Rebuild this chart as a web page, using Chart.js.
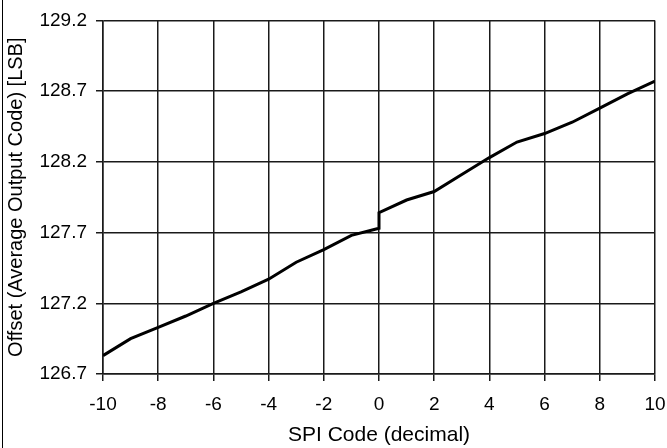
<!DOCTYPE html>
<html>
<head>
<meta charset="utf-8">
<script src="https://cdn.jsdelivr.net/npm/chart.js@4.4.1/dist/chart.umd.min.js"></script>
<style>
  html, body { margin: 0; padding: 0; background: #fff; }
  #wrap { position: relative; width: 667px; height: 448px; }
  #edge { position: absolute; left: 2px; top: 0; width: 1px; height: 448px; background: #000; }
</style>
</head>
<body>
<div id="wrap">
  <canvas id="chart" width="667" height="448"></canvas>
  <div id="edge"></div>
</div>
<script>
// SPI code on x, measured offset on y (code 0 appears twice: the step)
const spiCodes = [-10, -9, -8, -7, -6, -5, -4, -3, -2, -1, 0, 0, 1, 2, 3, 4, 5, 6, 7, 8, 9, 10];
const offsets = [126.83, 126.95, 127.03, 127.11, 127.20, 127.28, 127.37, 127.49, 127.58, 127.68,
                 127.73, 127.84, 127.93, 127.99, 128.11, 128.23, 128.34, 128.40, 128.48, 128.58, 128.68, 128.77];
const yTicks = [126.7, 127.2, 127.7, 128.2, 128.7, 129.2];
const xTicks = [-10, -8, -6, -4, -2, 0, 2, 4, 6, 8, 10];

const fontFamily = '"Liberation Sans", Arial, sans-serif';
const gridColor = '#1a1a1a';

const points = spiCodes.map((x, i) => ({ x: x, y: offsets[i] }));

new Chart(document.getElementById('chart').getContext('2d'), {
    type: 'line',
    data: {
        datasets: [{
            data: points,
            borderColor: '#000',
            borderWidth: 3,
            pointRadius: 0,
            fill: false,
            tension: 0
        }]
    },
    options: {
        responsive: false,
        animation: false,
        layout: { padding: { top: 18, right: 0, left: 0, bottom: 0 } },
        plugins: { legend: { display: false }, tooltip: { enabled: false } },
        scales: {
            x: {
                type: 'linear',
                min: -10,
                max: 10,
                afterBuildTicks: axis => { axis.ticks = xTicks.map(v => ({ value: v })); },
                afterFit: axis => {
                    axis.height = 74;
                    axis.paddingLeft = 0;
                    axis.paddingRight = 12;
                },
                ticks: {
                    color: '#000',
                    font: { family: fontFamily, size: 19 },
                    padding: 12,
                    maxRotation: 0,
                    callback: v => String(v)
                },
                grid: { color: gridColor, lineWidth: 1.5, tickLength: 7, drawTicks: true },
                border: { color: gridColor, width: 1.5 },
                title: {
                    display: true,
                    text: 'SPI Code (decimal)',
                    color: '#000',
                    font: { family: fontFamily, size: 21 },
                    padding: { top: 0, bottom: 0 }
                }
            },
            y: {
                type: 'linear',
                min: 126.7,
                max: 129.2,
                afterBuildTicks: axis => { axis.ticks = yTicks.map(v => ({ value: v })); },
                afterFit: axis => { axis.width = 103; },
                ticks: {
                    color: '#000',
                    font: { family: fontFamily, size: 19 },
                    padding: 9,
                    callback: v => Number(v).toFixed(1)
                },
                grid: { color: gridColor, lineWidth: 1.5, tickLength: 7, drawTicks: true },
                border: { color: gridColor, width: 1.5 },
                title: {
                    display: true,
                    text: 'Offset (Average Output Code) [LSB]',
                    color: '#000',
                    font: { family: fontFamily, size: 20 },
                    padding: { top: 4, bottom: 0 }
                }
            }
        }
    }
});
</script>
</body>
</html>
